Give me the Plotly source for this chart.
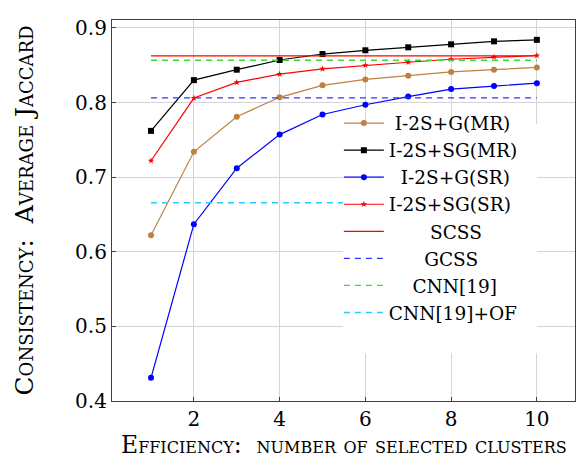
import plotly.graph_objects as go

x_vals = [1, 2, 3, 4, 5, 6, 7, 8, 9, 10]
g_mr = [0.622, 0.734, 0.781, 0.807, 0.823, 0.831, 0.836, 0.841, 0.844, 0.847]
sg_mr = [0.762, 0.830, 0.844, 0.857, 0.865, 0.870, 0.874, 0.878, 0.882, 0.884]
g_sr = [0.431, 0.637, 0.712, 0.757, 0.784, 0.797, 0.808, 0.818, 0.822, 0.826]
sg_sr = [0.722, 0.806, 0.827, 0.838, 0.845, 0.850, 0.854, 0.858, 0.861, 0.863]

baseline_x = [1, 10]
scss = 0.8624
gcss = 0.8063
cnn19 = 0.8567
cnn19_of = 0.6657

x_ticks = [2, 4, 6, 8, 10]
y_ticks = [0.4, 0.5, 0.6, 0.7, 0.8, 0.9]

x_title = "Efficiency:\u00a0 number of selected clusters"
y_title = "Consistency:\u00a0 Average Jaccard"

FONT = "DejaVu Serif, Liberation Serif, serif"
NB = "\u00a0"

def pad(name, n):
    return NB * n + name

fig = go.Figure()

fig.add_trace(go.Scatter(x=x_vals, y=g_mr, mode="lines+markers", name=pad("I-2S+G(MR)", 1),
                         line=dict(color="#BF8040", width=1.2),
                         marker=dict(symbol="circle", size=6, color="#BF8040")))
fig.add_trace(go.Scatter(x=x_vals, y=sg_mr, mode="lines+markers", name=pad("I-2S+SG(MR)", 0),
                         line=dict(color="black", width=1.2),
                         marker=dict(symbol="square", size=6, color="black")))
fig.add_trace(go.Scatter(x=x_vals, y=g_sr, mode="lines+markers", name=pad("I-2S+G(SR)", 2),
                         line=dict(color="#0000FF", width=1.2),
                         marker=dict(symbol="circle", size=6, color="#0000FF")))
fig.add_trace(go.Scatter(x=x_vals, y=sg_sr, mode="lines+markers", name=pad("I-2S+SG(SR)", 0),
                         line=dict(color="#FF0000", width=1.2),
                         marker=dict(symbol="star", size=5, color="#FF0000")))

fig.add_trace(go.Scatter(x=baseline_x, y=[scss, scss], mode="lines", name=pad("SCSS", 7),
                         line=dict(color="#FF0000", width=1.3)))
fig.add_trace(go.Scatter(x=baseline_x, y=[gcss, gcss], mode="lines", name=pad("GCSS", 6),
                         line=dict(color="#3333FF", width=1.4, dash="6px,5px")))
fig.add_trace(go.Scatter(x=baseline_x, y=[cnn19, cnn19], mode="lines", name=pad("CNN[19]", 4),
                         line=dict(color="#33DD33", width=1.4, dash="6px,5px")))
fig.add_trace(go.Scatter(x=baseline_x, y=[cnn19_of, cnn19_of], mode="lines", name=pad("CNN[19]+OF", 0),
                         line=dict(color="#22CCFF", width=1.4, dash="6px,5px")))

fig.update_layout(
    width=587, height=456,
    margin=dict(l=104, r=20, t=8, b=63),
    paper_bgcolor="white", plot_bgcolor="white",
    font=dict(family=FONT, size=20, color="black"),
    showlegend=True,
    legend=dict(x=0.490, y=0.778, xanchor="left", yanchor="top",
                bgcolor="rgba(0,0,0,0)", borderwidth=0,
                font=dict(family=FONT, size=18.5, color="black"),
                tracegroupgap=0, itemwidth=40),
    shapes=[dict(type="rect", xref="paper", yref="paper",
                 x0=0.499, x1=0.918, y0=0.125, y1=0.727,
                 fillcolor="white", line=dict(width=0), layer="above")],
    annotations=[dict(text=x_title, xref="paper", yref="paper", x=0.5, y=-0.116,
                      xanchor="center", yanchor="middle", showarrow=False,
                      font=dict(family=FONT, size=23.5, variant="small-caps", color="black"))],
)

fig.update_xaxes(
    range=[0.09, 10.89], tickvals=x_ticks, ticktext=[str(t) for t in x_ticks],
    showgrid=True, gridcolor="#d4d4d4", gridwidth=1,
    showline=True, linecolor="#404040", linewidth=1.2, mirror=True,
    ticks="inside", ticklen=4, tickcolor="#404040",
    zeroline=False, tickfont=dict(family=FONT, size=20),
)
fig.update_yaxes(
    range=[0.4, 0.9106], tickvals=y_ticks, ticktext=[f"{t:.1f}" for t in y_ticks],
    showgrid=True, gridcolor="#d4d4d4", gridwidth=1,
    showline=True, linecolor="#404040", linewidth=1.2, mirror=True,
    ticks="inside", ticklen=4, tickcolor="#404040",
    zeroline=False, tickfont=dict(family=FONT, size=20),
    title=dict(text=y_title,
               font=dict(family=FONT, size=25, variant="small-caps"), standoff=34),
)

fig.write_html("out.html")
